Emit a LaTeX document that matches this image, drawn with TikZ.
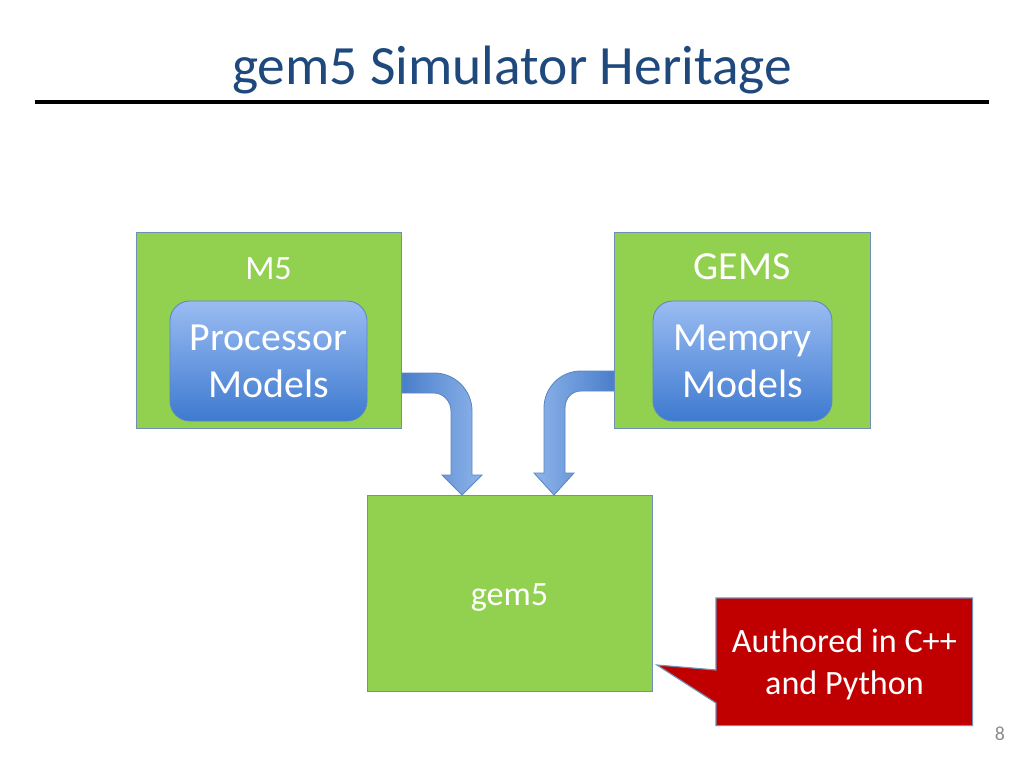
\documentclass[tikz,border=0pt]{standalone}
\usepackage{fontspec}
\setmainfont{Carlito}
\usetikzlibrary{positioning,calc}

\definecolor{boxgreen}{HTML}{92D050}
\definecolor{boxline}{HTML}{6F8FB4}
\definecolor{titleblue}{HTML}{1F497D}
\definecolor{modeltop}{HTML}{9ABCF2}
\definecolor{modelbot}{HTML}{3E7AD0}
\definecolor{arrowlight}{HTML}{8DB4EA}
\definecolor{arrowdark}{HTML}{4A7ECB}
\definecolor{arrowline}{HTML}{5A86C4}
\definecolor{calloutred}{HTML}{C00000}
\definecolor{pagegray}{HTML}{8C8C8C}

\newcommand{\pxu}{0.703125pt}

\begin{document}
\begin{tikzpicture}[x=0.703125pt, y=-0.703125pt,
    greenbox/.style={draw=boxline, line width=0.8pt, fill=boxgreen, inner sep=0pt},
    modelbox/.style={draw=arrowline, line width=0.6pt, rounded corners=14pt,
        top color=modeltop, bottom color=modelbot, text=white, align=center,
        font=\fontsize{28}{33}\selectfont, inner sep=0pt},
    boxlabel/.style={text=white, inner sep=0pt},
    bentarrow/.style={draw=arrowline, line width=0.6pt}]

    % Page size
    \useasboundingbox (0,0) rectangle (1024,768);

    % Title and rule
    \node[anchor=base, text=titleblue, font=\fontsize{39}{47}\selectfont] (title) at (512,85) {gem5 Simulator Heritage};
    \coordinate (ruleL) at (35,102);
    \coordinate (ruleR) at (989,102);
    \draw[line width=2.2pt] (ruleL) -- (ruleR);

    % M5 (left)
    \node[greenbox, anchor=north west, minimum width=265*\pxu, minimum height=196*\pxu] (m5) at (136,232) {};
    \node[boxlabel, font=\fontsize{24}{28}\selectfont] (m5lbl) at (268.5,269) {M5};
    \node[modelbox, minimum width=197*\pxu, minimum height=120*\pxu] (proc) at (268.5,361) {Processor\\Models};

    % GEMS (right)
    \node[greenbox, anchor=north west, minimum width=256*\pxu, minimum height=196*\pxu] (gems) at (614,232) {};
    \node[boxlabel, font=\fontsize{28}{33}\selectfont] (gemslbl) at (742,267) {GEMS};
    \node[modelbox, minimum width=179*\pxu, minimum height=120*\pxu] (mem) at (742.5,361) {Memory\\Models};

    % gem5 (bottom)
    \node[greenbox, anchor=north west, minimum width=285*\pxu, minimum height=196*\pxu] (gem5) at (367,495) {};
    \node[boxlabel, font=\fontsize{24}{28}\selectfont] (gem5lbl) at (509.5,597) {gem5};

    % Bent arrows into gem5
    \draw[bentarrow, left color=arrowdark, middle color=arrowlight, right color=arrowlight]
        (m5.east |- 0,373) -- (434,373) .. controls (455,373) and (472,390) .. (472,411)
        -- (472,475) -- (482,475) -- (462,0 |- gem5.north) -- (442,475) -- (451,475)
        -- (451,411) .. controls (451,401) and (443,393) .. (434,393) -- (m5.east |- 0,393) -- cycle;
    \draw[bentarrow, right color=arrowdark, middle color=arrowlight, left color=arrowlight]
        (gems.west |- 0,371) -- (581,371) .. controls (560,371) and (544,388) .. (544,408)
        -- (544,473) -- (534,473) -- (554,0 |- gem5.north) -- (574,473) -- (565,473)
        -- (565,408) .. controls (565,398) and (572,391) .. (581,391) -- (gems.west |- 0,391) -- cycle;

    % Callout
    \node[anchor=north west, minimum width=256*\pxu, minimum height=127*\pxu, inner sep=0pt] (callout) at (716,598) {};
    \coordinate (tip) at (657,665);
    \draw[draw=boxline, line width=0.8pt, fill=calloutred]
        (callout.north west) -- (callout.north east) -- (callout.south east) -- (callout.south west)
        -- (callout.west |- 0,703) -- (tip) -- (callout.west |- 0,670) -- cycle;
    \node[text=white, align=center, font=\fontsize{24}{29.5}\selectfont] (callouttxt) at (844.5,664) {Authored in C++\\and Python};

    % Page number
    \node[text=pagegray, font=\fontsize{14}{16}\selectfont] (pagenum) at (1000,734) {8};

\end{tikzpicture}
\end{document}
